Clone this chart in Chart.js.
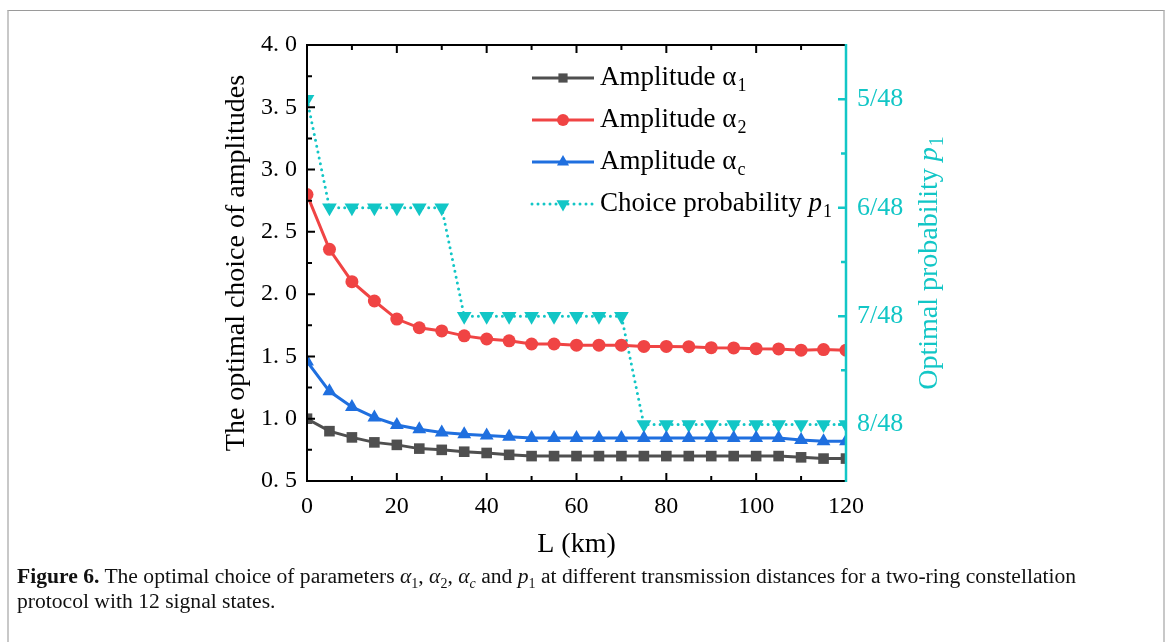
<!DOCTYPE html>
<html>
<head>
<meta charset="utf-8">
<script src="https://cdn.jsdelivr.net/npm/chart.js@4.4.0/dist/chart.umd.min.js"></script>
<style>
  html, body { margin: 0; padding: 0; background: #fff; }
  #wrap { position: relative; width: 1170px; height: 642px; overflow: hidden; }
  #frame { position: absolute; left: 7px; top: 10px; width: 1154px; height: 700px;
           border-top: 1px solid #9a9a9a; border-left: 2px solid #c8c8c8; border-right: 2px solid #c8c8c8; }
  #chart { position: absolute; left: 0; top: 0; }
  #caption { position: absolute; left: 17px; top: 564px; width: 1140px; white-space: nowrap;
             font-family: 'Liberation Serif', 'Times New Roman', serif; font-size: 21.6px; line-height: 25px; color: #111; }
  #caption sub { font-size: 14px; line-height: 0; }
</style>
</head>
<body>
<div id="wrap">
  <div id="frame"></div>
  <canvas id="chart" width="1170" height="642"></canvas>
  <div id="caption"><b>Figure 6.</b> The optimal choice of parameters <i>α</i><sub>1</sub>, <i>α</i><sub>2</sub>, <i>α</i><sub><i>c</i></sub> and <i>p</i><sub>1</sub> at different transmission distances for a two-ring constellation<br>protocol with 12 signal states.</div>
</div>
<script>
// transmission distance L (km)
const distances = [0, 5, 10, 15, 20, 25, 30, 35, 40, 45, 50, 55, 60, 65, 70, 75, 80, 85, 90, 95, 100, 105, 110, 115, 120];
// amplitudes
const alpha1 = [1.00, 0.90, 0.85, 0.81, 0.79, 0.76, 0.75, 0.735, 0.725, 0.71, 0.70, 0.70, 0.70, 0.70, 0.70, 0.70, 0.70, 0.70, 0.70, 0.70, 0.70, 0.70, 0.69, 0.68, 0.68];
const alpha2 = [2.80, 2.36, 2.10, 1.945, 1.80, 1.73, 1.705, 1.665, 1.64, 1.625, 1.60, 1.60, 1.59, 1.59, 1.59, 1.58, 1.58, 1.578, 1.57, 1.568, 1.562, 1.56, 1.55, 1.555, 1.55];
const alphaC = [1.46, 1.22, 1.095, 1.01, 0.95, 0.915, 0.89, 0.875, 0.865, 0.855, 0.845, 0.845, 0.845, 0.845, 0.845, 0.845, 0.845, 0.845, 0.845, 0.845, 0.845, 0.845, 0.83, 0.82, 0.82];
// choice probability p1, numerator over 48
const p1Num = [5, 6, 6, 6, 6, 6, 6, 7, 7, 7, 7, 7, 7, 7, 7, 8, 8, 8, 8, 8, 8, 8, 8, 8, 8];

const xTicks = [0, 20, 40, 60, 80, 100, 120];
const xMinor = [10, 30, 50, 70, 90, 110];
const leftTicks = [0.5, 1.0, 1.5, 2.0, 2.5, 3.0, 3.5, 4.0];
const leftMinor = [0.75, 1.25, 1.75, 2.25, 2.75, 3.25, 3.75];
const rightTicks = [5, 6, 7, 8];
const rightTickLabels = ['5/48', '6/48', '7/48', '8/48'];
const rightMinor = [5.5, 6.5, 7.5];

const legendItems = [
  { text: 'Amplitude α', sub: '1' },
  { text: 'Amplitude α', sub: '2' },
  { text: 'Amplitude α', sub: 'c' },
  { text: 'Choice probability ', pvar: 'p', sub: '1' }
];

const GRAY = '#4f4f4f';
const RED = '#f04444';
const BLUE = '#1f6fdf';
const CYAN = '#12c6c6';
const SERIF = "'Liberation Serif', 'Times New Roman', serif";

function toPoints(vals) {
  return distances.map((x, i) => ({ x: x, y: vals[i] }));
}

function drawMarker(ctx, style, x, y, r, color) {
  ctx.fillStyle = color;
  ctx.beginPath();
  if (style === 'rect') {
    const s = r * Math.SQRT1_2;
    ctx.rect(x - s, y - s, 2 * s, 2 * s);
  } else if (style === 'circle') {
    ctx.arc(x, y, r, 0, Math.PI * 2);
  } else {
    const dir = style === 'down' ? 1 : -1;
    ctx.moveTo(x, y + dir * r);
    ctx.lineTo(x + r * 0.866, y - dir * r / 2);
    ctx.lineTo(x - r * 0.866, y - dir * r / 2);
    ctx.closePath();
  }
  ctx.fill();
}

const framePlugin = {
  id: 'framePlugin',
  afterDatasetsDraw(chart) {
    const { ctx, chartArea: a, scales } = chart;
    const x = scales.x, y = scales.y, y2 = scales.y2;
    ctx.save();
    ctx.strokeStyle = '#000';
    ctx.lineWidth = 2;
    ctx.beginPath();
    ctx.moveTo(a.right, a.top); ctx.lineTo(a.left, a.top);
    ctx.lineTo(a.left, a.bottom); ctx.lineTo(a.right, a.bottom);
    ctx.stroke();
    ctx.beginPath();
    xTicks.forEach(v => {
      const px = x.getPixelForValue(v);
      ctx.moveTo(px, a.bottom); ctx.lineTo(px, a.bottom - 8);
      ctx.moveTo(px, a.top); ctx.lineTo(px, a.top + 8);
    });
    xMinor.forEach(v => {
      const px = x.getPixelForValue(v);
      ctx.moveTo(px, a.bottom); ctx.lineTo(px, a.bottom - 5);
      ctx.moveTo(px, a.top); ctx.lineTo(px, a.top + 5);
    });
    leftTicks.forEach(v => {
      const py = y.getPixelForValue(v);
      ctx.moveTo(a.left, py); ctx.lineTo(a.left + 8, py);
    });
    leftMinor.forEach(v => {
      const py = y.getPixelForValue(v);
      ctx.moveTo(a.left, py); ctx.lineTo(a.left + 5, py);
    });
    ctx.stroke();
    // right axis
    ctx.strokeStyle = CYAN;
    ctx.lineWidth = 2.5;
    ctx.beginPath();
    ctx.moveTo(a.right, a.top - 1); ctx.lineTo(a.right, a.bottom + 1);
    rightTicks.forEach(v => {
      const py = y2.getPixelForValue(v);
      ctx.moveTo(a.right, py); ctx.lineTo(a.right - 8, py);
    });
    rightMinor.forEach(v => {
      const py = y2.getPixelForValue(v);
      ctx.moveTo(a.right, py); ctx.lineTo(a.right - 5, py);
    });
    ctx.stroke();
    ctx.restore();
  },
  afterDraw(chart) {
    const { ctx, chartArea: a } = chart;
    ctx.save();
    // axis titles
    ctx.fillStyle = '#000';
    ctx.textBaseline = 'middle';
    ctx.textAlign = 'center';
    ctx.font = '28px ' + SERIF;
    ctx.fillText('L (km)', (a.left + a.right) / 2, 545);
    ctx.save();
    ctx.translate(237, (a.top + a.bottom) / 2);
    ctx.rotate(-Math.PI / 2);
    ctx.fillText('The optimal choice of amplitudes', 0, 0);
    ctx.restore();

    // right title with italic p and subscript
    ctx.save();
    ctx.fillStyle = CYAN;
    ctx.textAlign = 'left';
    ctx.translate(930, (a.top + a.bottom) / 2);
    ctx.rotate(-Math.PI / 2);
    const t1 = 'Optimal probability ';
    ctx.font = '28px ' + SERIF;
    const w1 = ctx.measureText(t1).width;
    ctx.font = 'italic 28px ' + SERIF;
    const w2 = ctx.measureText('p').width;
    ctx.font = '20px ' + SERIF;
    const w3 = ctx.measureText('1').width;
    let sx = -(w1 + w2 + w3 + 1) / 2;
    ctx.font = '28px ' + SERIF;
    ctx.fillText(t1, sx, 0);
    ctx.font = 'italic 28px ' + SERIF;
    ctx.fillText('p', sx + w1, 0);
    ctx.font = '20px ' + SERIF;
    ctx.fillText('1', sx + w1 + w2 + 1, 8);
    ctx.restore();

    // legend
    const rows = [78, 120, 162, 204];
    const styles = ['rect', 'circle', 'up', 'down'];
    const radii = [6.5, 6, 7, 7.5];
    chart.data.datasets.forEach((ds, i) => {
      const ry = rows[i];
      ctx.save();
      ctx.strokeStyle = ds.borderColor;
      ctx.lineWidth = ds.borderWidth;
      ctx.lineCap = ds.borderCapStyle || 'butt';
      ctx.setLineDash(ds.borderDash || []);
      ctx.beginPath();
      ctx.moveTo(532, ry); ctx.lineTo(594, ry);
      ctx.stroke();
      ctx.restore();
      drawMarker(ctx, styles[i], 563, ry, radii[i], ds.borderColor);
      const it = legendItems[i];
      ctx.fillStyle = '#000';
      ctx.textAlign = 'left';
      ctx.textBaseline = 'middle';
      ctx.font = '27px ' + SERIF;
      ctx.fillText(it.text, 600, ry);
      let tx = 600 + ctx.measureText(it.text).width;
      if (it.pvar) {
        ctx.font = 'italic 27px ' + SERIF;
        ctx.fillText(it.pvar, tx, ry);
        tx += ctx.measureText(it.pvar).width;
      }
      ctx.font = '18px ' + SERIF;
      ctx.fillText(it.sub, tx + 1, ry + 8);
    });
    ctx.restore();
  }
};

const chart = new Chart(document.getElementById('chart'), {
  type: 'line',
  data: {
    datasets: [
      { label: 'Amplitude α1', data: toPoints(alpha1), yAxisID: 'y', borderColor: GRAY, backgroundColor: GRAY,
        borderWidth: 3, pointStyle: 'rect', pointRadius: 7.5, pointBorderWidth: 0, clip: 0 },
      { label: 'Amplitude α2', data: toPoints(alpha2), yAxisID: 'y', borderColor: RED, backgroundColor: RED,
        borderWidth: 3, pointStyle: 'circle', pointRadius: 6.5, pointBorderWidth: 0, clip: 0 },
      { label: 'Amplitude αc', data: toPoints(alphaC), yAxisID: 'y', borderColor: BLUE, backgroundColor: BLUE,
        borderWidth: 3, pointStyle: 'triangle', pointRadius: 8, pointBorderWidth: 0, clip: 0 },
      { label: 'Choice probability p1', data: toPoints(p1Num), yAxisID: 'y2', borderColor: CYAN, backgroundColor: CYAN,
        borderWidth: 3, borderDash: [0, 6], borderCapStyle: 'round', pointStyle: 'triangle', rotation: 180,
        pointRadius: 8.5, pointBorderWidth: 0, clip: 0 }
    ]
  },
  options: {
    responsive: false,
    animation: false,
    layout: { padding: { top: 45, left: 0, right: 0, bottom: 0 } },
    plugins: { legend: { display: false }, tooltip: { enabled: false } },
    elements: { line: { tension: 0 } },
    scales: {
      x: {
        type: 'linear', min: 0, max: 120,
        grid: { display: false, drawTicks: false },
        border: { display: false },
        afterBuildTicks: s => { s.ticks = xTicks.map(v => ({ value: v })); },
        afterFit: s => { s.height = 642 - 481; },
        ticks: { color: '#000', padding: 11, font: { family: SERIF, size: 24 } }
      },
      y: {
        position: 'left', min: 0.5, max: 4.0,
        grid: { display: false, drawTicks: false },
        border: { display: false },
        afterBuildTicks: s => { s.ticks = leftTicks.map(v => ({ value: v })); },
        afterFit: s => { s.width = 307; },
        ticks: { color: '#000', padding: 10, font: { family: SERIF, size: 24 },
                 callback: v => v.toFixed(1).replace('.', '. ') }
      },
      y2: {
        position: 'right', min: 4.5, max: 8.52, reverse: true,
        grid: { display: false, drawTicks: false },
        border: { display: false },
        afterBuildTicks: s => { s.ticks = rightTicks.map(v => ({ value: v })); },
        afterFit: s => { s.width = 1170 - 846; },
        ticks: { color: CYAN, padding: 11, font: { family: SERIF, size: 26 },
                 callback: v => rightTickLabels[rightTicks.indexOf(v)] }
      }
    }
  },
  plugins: [framePlugin]
});
</script>
</body>
</html>
